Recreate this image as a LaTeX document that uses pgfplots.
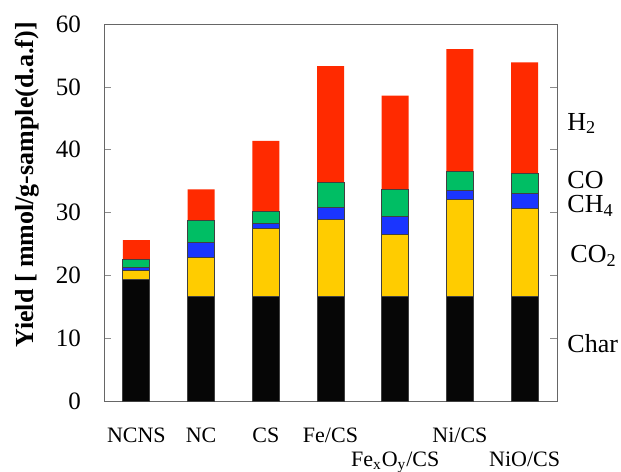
\documentclass[border=0pt]{standalone}
\usepackage{fontspec}
\setmainfont{Liberation Serif}
\usepackage{pgfplots}
\usepackage{pgfplotstable}
\pgfplotsset{compat=1.18}

\definecolor{charc}{HTML}{060606}
\definecolor{co2c}{HTML}{FFCC00}
\definecolor{ch4c}{HTML}{1A35FF}
\definecolor{coc}{HTML}{00BE64}
\definecolor{h2c}{HTML}{FF2A00}

\tikzset{species/.style={anchor=base west, inner sep=0pt,
    font=\fontsize{13}{15}\selectfont}}

% product yields per sample, mmol/g-sample (d.a.f.)
\pgfplotstableread{
x char co2  ch4 co  h2
0 19.3 1.4  0.6 1.3 3.0
1 16.7 6.2  2.4 3.4 5.0
2 16.7 10.7 0.9 1.8 11.3
3 16.7 12.2 1.9 4.0 18.5
4 16.7 9.8  2.8 4.3 15.0
5 16.7 15.4 1.4 3.0 19.5
6 16.7 14.0 2.3 3.2 17.7
}\yields

\begin{document}
\begin{tikzpicture}[font=\fontsize{11}{13}\selectfont]
\begin{axis}[
  name=ax,
  scale only axis, width=226.5pt, height=188.5pt,
  ybar stacked, bar width=13.5pt,
  xmin=-0.5, xmax=6.5, ymin=0, ymax=60,
  xtick={0,...,6},
  xticklabels={NCNS, NC, CS, Fe/CS,
    \raisebox{-12pt}{Fe\textsubscript{x}O\textsubscript{y}/CS},
    Ni/CS, \raisebox{-12pt}{NiO/CS}},
  xticklabel style={anchor=base, yshift=-20.8pt},
  ytick={0,10,...,60},
  yticklabels={0,10,20,30,40,50,60},
  yticklabel style={xshift=-8pt, font=\fontsize{12.5}{14}\selectfont},
  tick align=inside, major tick length=3.5pt,
  x tick style={draw=none},
  y tick style={black!45},
  axis line style={black!60},
  clip=false,
]
\addplot[fill=charc, draw=black!75, line width=0.5pt] table[x=x, y=char] {\yields};
\addplot[fill=co2c,  draw=black!75, line width=0.5pt] table[x=x, y=co2]  {\yields};
\addplot[fill=ch4c,  draw=black!75, line width=0.5pt] table[x=x, y=ch4]  {\yields};
\addplot[fill=coc,   draw=black!75, line width=0.5pt] table[x=x, y=co]   {\yields};
\addplot[fill=h2c,   draw=none] table[x=x, y=h2] {\yields};

\node[species, xshift=5pt] at (6.5,43.1) {H\textsubscript{2}};
\node[species, xshift=5pt] at (6.5,33.9) {CO};
\node[species, xshift=5pt] at (6.5,30.0) {CH\textsubscript{4}};
\node[species, xshift=6.5pt] at (6.5,22.0) {CO\textsubscript{2}};
\node[species, xshift=5pt] at (6.5,7.7) {Char};

\node[rotate=90, font=\fontsize{13}{15}\selectfont\bfseries]
  at (rel axis cs:-0.17,0.573) {Yield [ mmol/g-sample(d.a.f)]};
\end{axis}
\pgfresetboundingbox
\path[use as bounding box] ([xshift=-52pt,yshift=-35pt]ax.south west)
  rectangle ([xshift=32pt,yshift=12pt]ax.north east);
\end{tikzpicture}
\end{document}
